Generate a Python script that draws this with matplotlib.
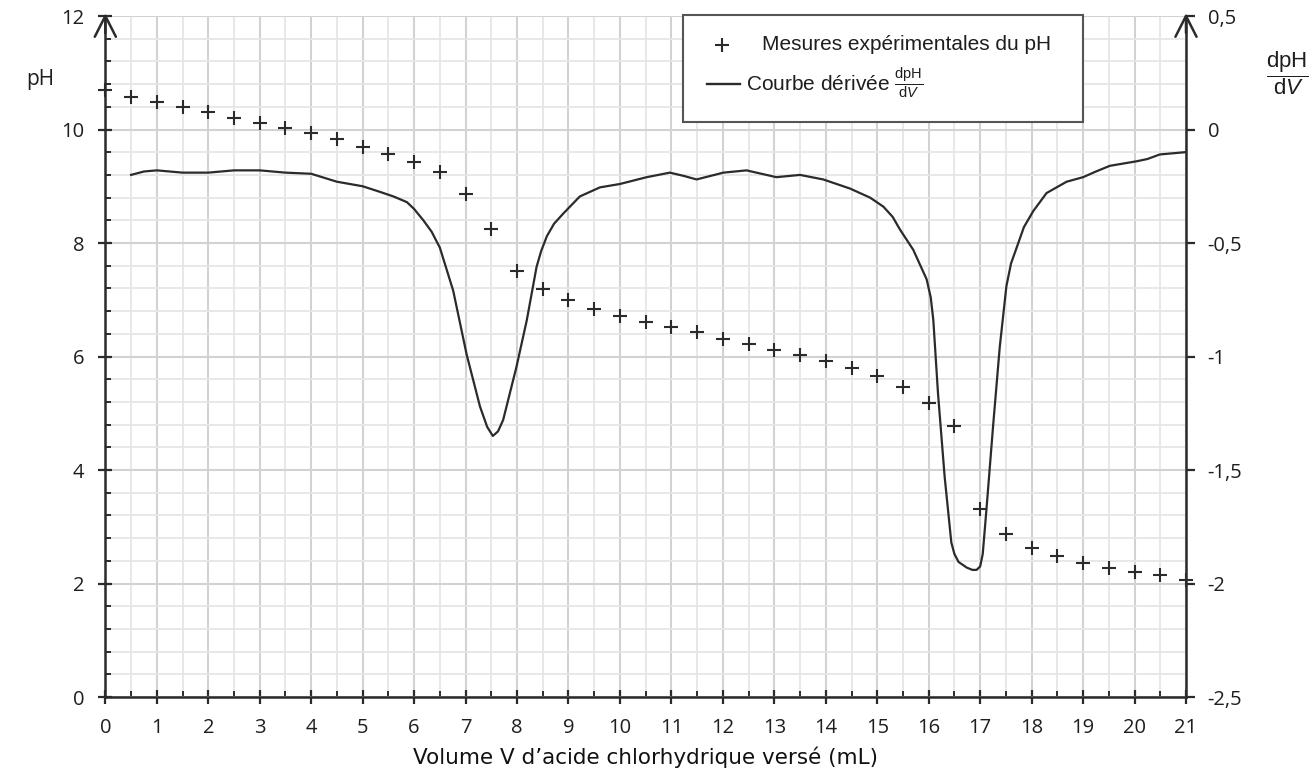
import matplotlib
matplotlib.use("Agg")
import matplotlib.pyplot as plt
from matplotlib.lines import Line2D
from matplotlib.patches import Rectangle
from matplotlib.ticker import MultipleLocator, FuncFormatter

plt.rcParams["mathtext.fontset"] = "custom"
plt.rcParams["mathtext.rm"] = "Liberation Sans"
plt.rcParams["mathtext.it"] = "Liberation Sans:italic"

# mesures du pH
volume = [0, 0.5, 1, 1.5, 2, 2.5, 3, 3.5, 4, 4.5, 5, 5.5, 6, 6.5, 7, 7.5, 8,
          8.5, 9, 9.5, 10, 10.5, 11, 11.5, 12, 12.5, 13, 13.5, 14, 14.5, 15,
          15.5, 16, 16.5, 17, 17.5, 18, 18.5, 19, 19.5, 20, 20.5, 21]
ph = [10.70, 10.58, 10.48, 10.40, 10.30, 10.21, 10.11, 10.03, 9.94, 9.83,
      9.69, 9.57, 9.43, 9.25, 8.86, 8.25, 7.51, 7.19, 6.99, 6.84, 6.71, 6.61,
      6.52, 6.43, 6.31, 6.22, 6.11, 6.03, 5.92, 5.80, 5.66, 5.47, 5.18, 4.78,
      3.31, 2.87, 2.62, 2.49, 2.36, 2.28, 2.20, 2.15, 2.07]

# courbe derivee dpH/dV
v_der = [0.5, 0.75, 1.0, 1.5, 2.0, 2.5, 3.0, 3.5, 4.0, 4.5, 5.0, 5.34, 5.6,
         5.86, 6.0, 6.18, 6.34, 6.50, 6.76, 7.02, 7.28, 7.42, 7.53, 7.63,
         7.73, 7.99, 8.19, 8.38, 8.47, 8.58, 8.72, 8.90, 9.22, 9.61, 10.0,
         10.52, 10.97, 11.25, 11.49, 11.75, 12.01, 12.46, 12.75, 13.04, 13.50,
         13.95, 14.47, 14.86, 15.12, 15.30, 15.44, 15.70, 15.96, 16.04, 16.09,
         16.18, 16.31, 16.44, 16.50, 16.58, 16.74, 16.85, 16.93, 17.0, 17.05,
         17.12, 17.25, 17.38, 17.51, 17.60, 17.71, 17.85, 18.03, 18.29, 18.68,
         19.00, 19.25, 19.52, 20.04, 20.25, 20.49, 20.98]
dph_dv = [-0.20, -0.185, -0.18, -0.19, -0.19, -0.18, -0.18, -0.19, -0.195,
          -0.23, -0.25, -0.275, -0.295, -0.32, -0.35, -0.40, -0.45, -0.52,
          -0.71, -0.99, -1.22, -1.31, -1.35, -1.33, -1.28, -1.045, -0.84,
          -0.605, -0.535, -0.47, -0.415, -0.37, -0.295, -0.255, -0.24, -0.21,
          -0.19, -0.205, -0.22, -0.205, -0.19, -0.18, -0.195, -0.21, -0.20,
          -0.22, -0.26, -0.30, -0.34, -0.385, -0.44, -0.53, -0.66, -0.74,
          -0.84, -1.16, -1.53, -1.82, -1.87, -1.905, -1.93, -1.94, -1.94,
          -1.925, -1.87, -1.68, -1.31, -0.96, -0.69, -0.59, -0.52, -0.43,
          -0.36, -0.28, -0.23, -0.21, -0.185, -0.16, -0.14, -0.13, -0.11,
          -0.10]

ink = "#2b2b2b"
tick_font = dict(family="Open Sans", size=14.5)

fig = plt.figure(figsize=(13.15, 7.73), dpi=100)
ax = fig.add_axes([0.0801, 0.0983, 0.8218, 0.881])
ax2 = ax.twinx()

ax.set_xlim(0, 21)
ax.set_ylim(0, 12)
ax2.set_ylim(-2.5, 0.5)

ax.xaxis.set_major_locator(MultipleLocator(1))
ax.xaxis.set_minor_locator(MultipleLocator(0.5))
ax.yaxis.set_major_locator(MultipleLocator(2))
ax.yaxis.set_minor_locator(MultipleLocator(0.4))
ax2.yaxis.set_major_locator(MultipleLocator(0.5))
ax2.yaxis.set_major_formatter(FuncFormatter(lambda v, p: ("%g" % v).replace(".", ",")))

ax.grid(which="major", color="#d2d2d2", lw=1.5, zorder=0)
ax.grid(which="minor", color="#e6e6e6", lw=1.3, zorder=0)
ax.set_axisbelow(True)

for s in ["top", "right"]:
    ax.spines[s].set_visible(False)
for s in ["top", "left", "bottom"]:
    ax2.spines[s].set_visible(False)
for sp in [ax.spines["left"], ax.spines["bottom"], ax2.spines["right"]]:
    sp.set_color(ink)
    sp.set_linewidth(1.8)

ax.tick_params(axis="both", which="major", direction="inout", length=10.5,
               width=1.6, color=ink, pad=10, labelcolor="#1e1e1e")
ax.tick_params(axis="both", which="minor", direction="in", length=4.5,
               width=1.4, color=ink)
ax2.tick_params(axis="y", which="major", direction="out", length=6.5,
                width=1.6, color=ink, pad=9, labelcolor="#1e1e1e")
for lab in ax.get_xticklabels() + ax.get_yticklabels() + ax2.get_yticklabels():
    lab.set_fontfamily(tick_font["family"])
    lab.set_fontsize(tick_font["size"])

# donnees
ax.plot(volume, ph, ls="none", marker="+", ms=10.5, mew=1.5, color=ink,
        clip_on=False, zorder=3)
ax2.plot(v_der, dph_dv, color=ink, lw=1.6, zorder=3,
         solid_joinstyle="round")

# fleches des axes
arrow = dict(arrowstyle="->,head_length=0.75,head_width=0.38", lw=1.8,
             color=ink, mutation_scale=20, shrinkA=0, shrinkB=0)
ax.annotate("", xy=(0, 12.05), xytext=(0, 11.7), arrowprops=arrow,
            annotation_clip=False)
ax.annotate("", xy=(21, 12.05), xytext=(21, 11.7), arrowprops=arrow,
            annotation_clip=False)

# titres des axes
fig.text(40 / 1315, 1 - 80 / 773, "pH", ha="center", va="center",
         family="Open Sans", fontsize=15, color="#1e1e1e")
fig.text(1287 / 1315, 1 - 73 / 773, "$\\dfrac{\\mathrm{dpH}}{\\mathrm{d}V}$",
         ha="center", va="center", fontsize=16, color="#1e1e1e")
fig.text(645.5 / 1315, 1 - 757 / 773, "Volume V d\u2019acide chlorhydrique versé (mL)",
         ha="center", va="center", family="DejaVu Sans", fontsize=15.5, color="#111")

# legende
fig.add_artist(Rectangle((683 / 1315, 1 - 122 / 773), 400 / 1315, 107 / 773,
                         transform=fig.transFigure, facecolor="white",
                         edgecolor="#555555", lw=1.5, zorder=4))
fig.add_artist(Line2D([722 / 1315], [1 - 45 / 773], transform=fig.transFigure,
                      marker="+", ms=10.5, mew=1.5, color=ink, zorder=5))
fig.text(762 / 1315, 1 - 45 / 773, "Mesures expérimentales du pH",
         ha="left", va="center", family="Liberation Sans", fontsize=15,
         color="#1e1e1e", zorder=5)
fig.add_artist(Line2D([707 / 1315, 740 / 1315], [1 - 84 / 773, 1 - 84 / 773],
                      transform=fig.transFigure, lw=1.7, color=ink, zorder=5))
fig.text(746 / 1315, 1 - 91 / 773,
         "Courbe dérivée $\\frac{\\mathrm{dpH}}{\\mathrm{d}V}$",
         ha="left", va="baseline", family="Liberation Sans", fontsize=15,
         color="#1e1e1e", zorder=5)

fig.savefig("out.png", dpi=100, facecolor="white")
